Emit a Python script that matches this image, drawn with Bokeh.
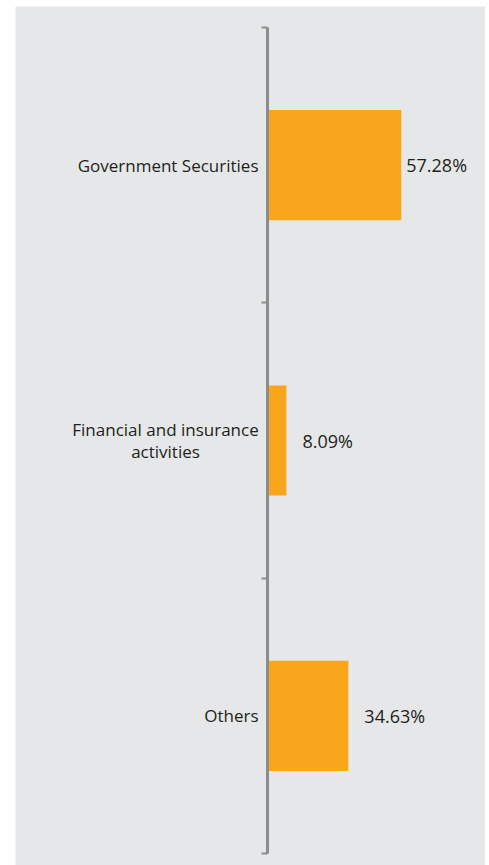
from bokeh.plotting import figure
from bokeh.models import ColumnDataSource, Range1d, FixedTicker, Spacer
from bokeh.layouts import row, column
from bokeh.core.properties import value
from bokeh.embed import file_html
from bokeh.resources import INLINE

categories = ["Government Securities", "Financial and insurance\nactivities", "Others"]
shares = [57.28, 8.09, 34.63]
value_labels = ["57.28%", "8.09%", "34.63%"]

n = len(categories)
ypos = [n - i - 0.5 for i in range(n)]

FONT = "Open Sans"
TEXT_COLOR = "#231f20"
BG = "#e6e7e8"
BAR = "#f9a61c"
AXIS = "#8c8c8c"

PX_PER_UNIT = 2.335
LEFT_SPACE = 252 / PX_PER_UNIT
RIGHT_SPACE = 218 / PX_PER_UNIT
BAND_PX = 826 / n
PAD_TOP = 21 / BAND_PX
PAD_BOTTOM = 12 / BAND_PX

p = figure(width=470, height=859, output_backend="svg", toolbar_location=None,
           x_range=Range1d(-LEFT_SPACE, RIGHT_SPACE),
           y_range=Range1d(-PAD_BOTTOM, n + PAD_TOP),
           min_border_left=0, min_border_right=0, min_border_top=0, min_border_bottom=0)
p.background_fill_color = BG
p.border_fill_color = BG
p.outline_line_color = None
p.grid.visible = False
p.xaxis.visible = False

ya = p.yaxis[0]
ya.fixed_location = 0
ya.bounds = (0, n)
ya.ticker = FixedTicker(ticks=[], minor_ticks=list(range(n + 1)))
ya.major_label_text_font_size = "0px"
ya.major_label_standoff = 0
ya.major_tick_in = 0
ya.major_tick_out = 0
ya.minor_tick_in = 0
ya.minor_tick_out = 6
ya.minor_tick_line_color = AXIS
ya.minor_tick_line_width = 2
ya.axis_line_color = AXIS
ya.axis_line_width = 3

src = ColumnDataSource(dict(y=ypos, v=shares, lab=value_labels,
                            off=[5, 16, 16]))
p.hbar(y="y", left=0, right="v", height=0.4, source=src,
       fill_color=BAR, line_color=None)
p.text(x="v", y="y", text="lab", x_offset="off", source=src,
       text_font=value(FONT), text_font_size="18px", text_color=TEXT_COLOR,
       text_align="left", text_baseline="middle")

# category labels: single-line right aligned, multi-line centred lines
single_txt, single_y = [], []
multi_txt, multi_y, multi_off = [], [], []
for c, y in zip(categories, ypos):
    lines = c.split("\n")
    if len(lines) == 1:
        single_txt.append(c)
        single_y.append(y)
    else:
        k = len(lines)
        for j, ln in enumerate(lines):
            multi_txt.append(ln)
            multi_y.append(y)
            multi_off.append((j - (k - 1) / 2) * 22)

p.text(x=0, y=single_y, text=single_txt, x_offset=-9,
       text_font=value(FONT), text_font_size="17px", text_color=TEXT_COLOR,
       text_align="right", text_baseline="middle")
p.text(x=0, y=multi_y, text=multi_txt, x_offset=-102, y_offset=multi_off,
       text_font=value(FONT), text_font_size="17px", text_color=TEXT_COLOR,
       text_align="center", text_baseline="middle")

layout = column(Spacer(width=485, height=6), row(Spacer(width=15, height=859), p))
open("out.html", "w").write(file_html(layout, INLINE))
